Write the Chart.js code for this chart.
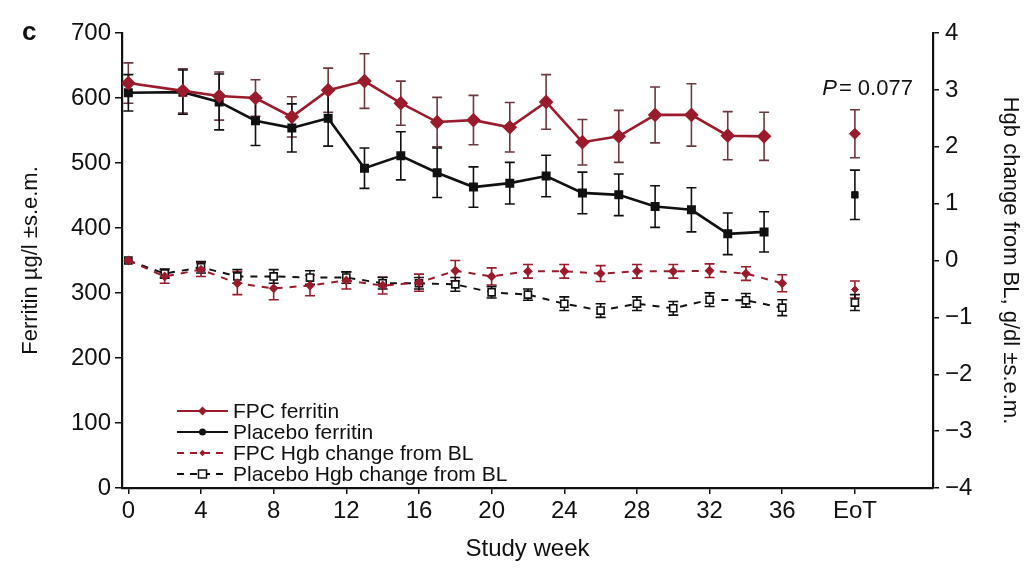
<!DOCTYPE html>
<html>
<head>
<meta charset="utf-8">
<script src="https://cdn.jsdelivr.net/npm/chart.js@4.4.1/dist/chart.umd.min.js"></script>
<style>
  html, body { margin: 0; padding: 0; background: #fff; }
  #wrap { width: 1029px; height: 570px; }
</style>
</head>
<body>
<div id="wrap"><canvas id="chart" width="1029" height="570"></canvas></div>
<script>
// ferritin measured at odd weeks (plus baseline)
const ferritinWeeks = [0, 3, 5, 7, 9, 11, 13, 15, 17, 19, 21, 23, 25, 27, 29, 31, 33, 35];
const fpcFerritin = [623, 611, 603, 600, 571, 612, 626, 592, 563, 566, 555, 594, 532, 541, 574, 574, 542, 541];
const fpcFerritinSem = [31, 34, 37, 28, 31, 34, 42, 34, 38, 38, 38, 42, 35, 40, 43, 48, 37, 37];
const placeboFerritin = [608, 609, 594, 565, 554, 569, 492, 511, 485, 463, 469, 480, 454, 451, 433, 428, 391, 394];
const placeboFerritinSem = [28, 34, 43, 38, 37, 43, 31, 37, 38, 31, 32, 32, 32, 32, 32, 34, 32, 31];

// Hgb change from baseline at even weeks
const hgbWeeks = [0, 2, 4, 6, 8, 10, 12, 14, 16, 18, 20, 22, 24, 26, 28, 30, 32, 34, 36];
const fpcHgb = [0, -0.28, -0.16, -0.40, -0.49, -0.44, -0.35, -0.44, -0.39, -0.18, -0.28, -0.19, -0.19, -0.23, -0.19, -0.19, -0.18, -0.23, -0.40];
const fpcHgbSem = [0, 0.12, 0.12, 0.2, 0.2, 0.18, 0.15, 0.15, 0.15, 0.18, 0.15, 0.12, 0.12, 0.14, 0.12, 0.12, 0.12, 0.12, 0.15];
const placeboHgb = [0, -0.23, -0.12, -0.28, -0.28, -0.30, -0.30, -0.40, -0.40, -0.42, -0.56, -0.60, -0.76, -0.88, -0.76, -0.84, -0.69, -0.70, -0.83];
const placeboHgbSem = [0, 0.08, 0.1, 0.12, 0.12, 0.12, 0.1, 0.1, 0.1, 0.12, 0.1, 0.1, 0.12, 0.12, 0.12, 0.12, 0.12, 0.12, 0.14];

// end of treatment values
const eotWeek = 40;
const eotFpcFerritin = 545, eotFpcFerritinSem = 37;
const eotPlaceboFerritin = 451, eotPlaceboFerritinSem = 38;
const eotFpcHgb = -0.51, eotFpcHgbSem = 0.15;
const eotPlaceboHgb = -0.74, eotPlaceboHgbSem = 0.14;

const xTicks = [0, 4, 8, 12, 16, 20, 24, 28, 32, 36, 40];
const xTickLabels = ['0', '4', '8', '12', '16', '20', '24', '28', '32', '36', 'EoT'];
const pValueText = '= 0.077';

const RED = '#9a1b2b';
const RED_ERR = '#6a3a40';
const BLACK = '#111';
const FONT = '"Liberation Sans", Arial, Helvetica, sans-serif';

const pts = (xs, ys) => xs.map((x, i) => ({ x: x, y: ys[i] }));

// draws the ±s.e.m. bars using each dataset's own y scale
const errorBars = {
  id: 'errorBars',
  beforeDatasetsDraw(chart) {
    const ctx = chart.ctx;
    chart.data.datasets.forEach((ds, i) => {
      if (!ds.sem) return;
      const xs = chart.scales.x;
      const ys = chart.scales[ds.yAxisID];
      ctx.save();
      ctx.strokeStyle = ds.semColor || ds.borderColor;
      ctx.lineWidth = 1.6;
      ds.data.forEach((p, j) => {
        const s = ds.sem[j];
        if (!s) return;
        const px = xs.getPixelForValue(p.x);
        const top = ys.getPixelForValue(p.y + s);
        const bot = ys.getPixelForValue(p.y - s);
        ctx.beginPath();
        ctx.moveTo(px, top); ctx.lineTo(px, bot);
        ctx.moveTo(px - 5, top); ctx.lineTo(px + 5, top);
        ctx.moveTo(px - 5, bot); ctx.lineTo(px + 5, bot);
        ctx.stroke();
      });
      ctx.restore();
    });
  }
};

// legend inside the plot, bottom-left, plus panel letter and p value
const extras = {
  id: 'extras',
  afterDraw(chart) {
    const ctx = chart.ctx;
    const a = chart.chartArea;
    const items = [
      { text: 'FPC ferritin', color: RED, dash: [], marker: 'diamond' },
      { text: 'Placebo ferritin', color: BLACK, dash: [], marker: 'dot' },
      { text: 'FPC Hgb change from BL', color: RED, dash: [7, 6], marker: 'smalldiamond' },
      { text: 'Placebo Hgb change from BL', color: BLACK, dash: [7, 6], marker: 'opensquare' }
    ];
    ctx.save();
    ctx.font = '21px ' + FONT;
    ctx.textBaseline = 'middle';
    items.forEach((it, k) => {
      const y = a.bottom - 77 + k * 21;
      const x0 = a.left + 55, x1 = a.left + 106, xm = (x0 + x1) / 2;
      ctx.strokeStyle = it.color;
      ctx.lineWidth = 2.2;
      ctx.setLineDash(it.dash);
      ctx.beginPath(); ctx.moveTo(x0, y); ctx.lineTo(x1, y); ctx.stroke();
      ctx.setLineDash([]);
      ctx.fillStyle = it.color;
      if (it.marker === 'diamond' || it.marker === 'smalldiamond') {
        const r = it.marker === 'diamond' ? 4.5 : 3.2;
        ctx.beginPath();
        ctx.moveTo(xm, y - r); ctx.lineTo(xm + r, y); ctx.lineTo(xm, y + r); ctx.lineTo(xm - r, y);
        ctx.closePath(); ctx.fill();
      } else if (it.marker === 'dot') {
        ctx.beginPath(); ctx.arc(xm, y, 3.5, 0, Math.PI * 2); ctx.fill();
      } else {
        ctx.fillStyle = '#fff';
        ctx.lineWidth = 1.5;
        ctx.fillRect(xm - 4, y - 4, 8, 8);
        ctx.strokeRect(xm - 4, y - 4, 8, 8);
      }
      ctx.fillStyle = BLACK;
      ctx.textAlign = 'left';
      ctx.fillText(it.text, x1 + 5, y + 1);
    });

    // panel letter
    ctx.font = 'bold 26px ' + FONT;
    ctx.textAlign = 'left';
    ctx.fillText('c', 22, 33);

    // p value near EoT
    const px = chart.scales.x.getPixelForValue(eotWeek) + 58;
    const py = a.top + 56;
    ctx.font = '22px ' + FONT;
    ctx.textAlign = 'right';
    ctx.fillText(pValueText, px, py);
    const w = ctx.measureText(pValueText).width;
    ctx.font = 'italic 22px ' + FONT;
    ctx.fillText('P', px - w - 2, py);
    ctx.restore();
  }
};

const tickFont = { family: FONT, size: 24 };
const titleFont = { family: FONT, size: 22 };

new Chart(document.getElementById('chart'), {
  type: 'line',
  data: {
    datasets: [
      {
        label: 'FPC ferritin', yAxisID: 'y',
        data: pts(ferritinWeeks, fpcFerritin), sem: fpcFerritinSem, semColor: RED_ERR,
        borderColor: RED, backgroundColor: RED, borderWidth: 2.6,
        pointStyle: 'rectRot', pointRadius: 5.5, tension: 0
      },
      {
        label: 'Placebo ferritin', yAxisID: 'y',
        data: pts(ferritinWeeks, placeboFerritin), sem: placeboFerritinSem,
        borderColor: BLACK, backgroundColor: BLACK, borderWidth: 2.6,
        pointStyle: 'rect', pointRadius: 4.5, tension: 0
      },
      {
        label: 'FPC Hgb change from BL', yAxisID: 'y2',
        data: pts(hgbWeeks, fpcHgb), sem: fpcHgbSem, semColor: RED,
        borderColor: RED, backgroundColor: RED, borderWidth: 2, borderDash: [7, 7],
        pointStyle: 'rectRot', pointRadius: 3.5, tension: 0
      },
      {
        label: 'Placebo Hgb change from BL', yAxisID: 'y2',
        data: pts(hgbWeeks, placeboHgb), sem: placeboHgbSem,
        borderColor: BLACK, backgroundColor: '#fff', borderWidth: 2, borderDash: [7, 7],
        pointStyle: 'rect', pointRadius: 5, pointBorderWidth: 1.6, tension: 0
      },
      {
        label: 'FPC ferritin EoT', yAxisID: 'y', showLine: false,
        data: [{ x: eotWeek, y: eotFpcFerritin }], sem: [eotFpcFerritinSem], semColor: RED_ERR,
        borderColor: RED, backgroundColor: RED, pointStyle: 'rectRot', pointRadius: 5.5
      },
      {
        label: 'Placebo ferritin EoT', yAxisID: 'y', showLine: false,
        data: [{ x: eotWeek, y: eotPlaceboFerritin }], sem: [eotPlaceboFerritinSem],
        borderColor: BLACK, backgroundColor: BLACK, pointStyle: 'rect', pointRadius: 4.5
      },
      {
        label: 'FPC Hgb EoT', yAxisID: 'y2', showLine: false,
        data: [{ x: eotWeek, y: eotFpcHgb }], sem: [eotFpcHgbSem], semColor: RED,
        borderColor: RED, backgroundColor: RED, pointStyle: 'rectRot', pointRadius: 3.5
      },
      {
        label: 'Placebo Hgb EoT', yAxisID: 'y2', showLine: false,
        data: [{ x: eotWeek, y: eotPlaceboHgb }], sem: [eotPlaceboHgbSem],
        borderColor: BLACK, backgroundColor: '#fff', pointStyle: 'rect', pointRadius: 5, pointBorderWidth: 1.6
      }
    ]
  },
  options: {
    responsive: false,
    animation: false,
    layout: { padding: { top: 33, right: 0, bottom: 0, left: 0 } },
    plugins: { legend: { display: false }, tooltip: { enabled: false } },
    scales: {
      x: {
        type: 'linear', min: -0.35, max: 44.3,
        afterBuildTicks: s => { s.ticks = xTicks.map(v => ({ value: v })); },
        afterFit: s => { s.height = 82; },
        ticks: {
          font: tickFont, color: BLACK, padding: 3, maxRotation: 0, autoSkip: false,
          callback: v => xTickLabels[xTicks.indexOf(v)]
        },
        grid: { drawOnChartArea: false, tickLength: 6, color: BLACK, lineWidth: 1.5 },
        border: { color: BLACK, width: 2.2 },
        title: { display: true, text: 'Study week', font: { family: FONT, size: 24 }, color: BLACK, padding: { top: 4, bottom: 6 } }
      },
      y: {
        position: 'left', min: 0, max: 700,
        afterFit: s => { s.width = 122; },
        ticks: { stepSize: 100, font: tickFont, color: BLACK, padding: 4 },
        grid: { drawOnChartArea: false, tickLength: 7, color: BLACK, lineWidth: 1.5 },
        border: { color: BLACK, width: 2.2 },
        title: { display: true, text: 'Ferritin µg/l ±s.e.m.', font: titleFont, color: BLACK, padding: { top: 18, bottom: 0 } }
      },
      y2: {
        position: 'right', min: -4, max: 4,
        afterFit: s => { s.width = 96; },
        ticks: {
          stepSize: 1, font: tickFont, color: BLACK, padding: 6,
          callback: v => (v < 0 ? '\u2212' + Math.abs(v) : String(v))
        },
        grid: { drawOnChartArea: false, tickLength: 6, color: BLACK, lineWidth: 1.5 },
        border: { color: BLACK, width: 2.2 },
        title: { display: true, text: 'Hgb change from BL, g/dl ±s.e.m.', font: titleFont, color: BLACK, padding: { top: 6, bottom: 0 } }
      }
    }
  },
  plugins: [errorBars, extras]
});
</script>
</body>
</html>
